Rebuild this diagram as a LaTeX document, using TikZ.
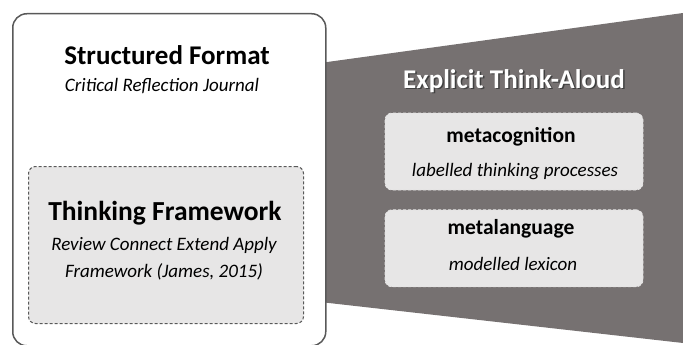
\documentclass[tikz,border=0pt]{standalone}
\usepackage{fontspec}
\setmainfont{Carlito}
\usetikzlibrary{positioning}
\definecolor{funnelgray}{HTML}{767171}
\definecolor{boxline}{HTML}{595959}
\definecolor{panelfill}{HTML}{E7E6E6}
\tikzset{
	outerbox/.style={draw=boxline, line width=1.5pt, fill=white, rounded corners=14pt},
	panel/.style={fill=panelfill, rounded corners=7pt, dash pattern=on 3pt off 2pt}
}

\begin{document}
\begin{tikzpicture}[
	x=1pt, y=-1pt,
	heading/.style={font=\bfseries\fontsize{27}{30}\selectfont, inner sep=0pt},
	subline/.style={font=\itshape\fontsize{19}{27}\selectfont, inner sep=0pt, align=center},
	itemhead/.style={font=\bfseries\fontsize{21.5}{24}\selectfont, inner sep=0pt}]
	\useasboundingbox (0,0) rectangle (683,345);
	% funnel behind the journal box
	\fill[funnelgray] (320,63) -- (683,13) -- (683,343) -- (320,302) -- cycle;
	\node[outerbox, minimum width=313pt, minimum height=332pt, anchor=north west] (journal) at (12,13) {};
	\node[heading] (sf) at (167,55) {Structured Format};
	\node[subline] (crj) at (162,86) {Critical Reflection Journal};
	\node[panel, draw=boxline, line width=1pt, minimum width=275pt, minimum height=157pt, anchor=north west] (rcea) at (28,166) {};
	\node[heading, font=\bfseries\fontsize{27.5}{30}\selectfont] (tf) at (165,213) {Thinking Framework};
	\node[subline] (rceatxt) at (164,259) {Review Connect Extend Apply\\Framework (James, 2015)};
	% think-aloud side
	\node[heading, text=black!75] (etashadow) at (515.5,82.5) {Explicit Think-Aloud};
	\node[heading, text=white] (eta) at (514,81) {Explicit Think-Aloud};
	\node[panel, draw=white!80!funnelgray, line width=0.8pt, minimum width=258pt, minimum height=77pt] (mc) at (514,151.5) {};
	\node[panel, draw=white!80!funnelgray, line width=0.8pt, minimum width=258pt, minimum height=77pt, below=19pt of mc] (ml) {};
	\node[itemhead] (mctitle) at (511,137) {metacognition};
	\node[subline] (mctxt) at (515,172) {labelled thinking processes};
	\node[itemhead] (mltitle) at (511,229) {metalanguage};
	\node[subline] (mltxt) at (513,264) {modelled lexicon};
\end{tikzpicture}
\end{document}
